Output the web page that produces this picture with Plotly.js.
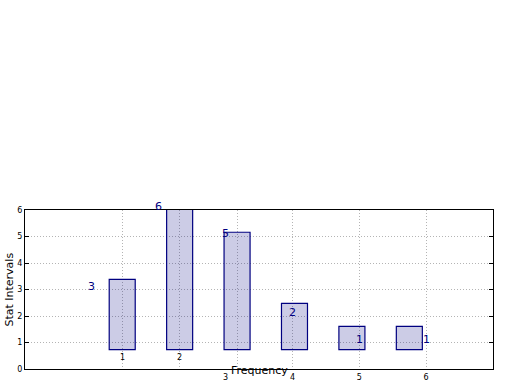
<!DOCTYPE html>
<html>
<head>
<meta charset="utf-8">
<script src="https://cdn.plot.ly/plotly-3.0.1.min.js"></script>
<style>html,body{margin:0;padding:0;background:#fff;}#chart{width:520px;height:390px;}</style>
</head>
<body>
<div id="chart"></div>
<script>
// ---- data ----
const categories = [1, 2, 3, 4, 5, 6];
const barTops = [3.38, 6.07, 5.16, 2.48, 1.61, 1.61];
const barBase = 0.73;
const counts = [3, 6, 5, 2, 1, 1];
const innerTickLabels = ['1', '2'];
const outerTickVals = [3, 4, 5, 6];
const outerTickText = ['3', '4', '5', '6'];
const yTicks = [0, 1, 2, 3, 4, 5, 6];
const xTitle = 'Frequency';
const yTitle = 'Stat Intervals';

const FONT = 'DejaVu Sans, sans-serif';
const NAVY = '#000080';
const GRID = '#b4b4b4';
const DASH = '1px,2px';

const bars = {
  type: 'bar',
  x: categories,
  y: barTops.map(v => v - barBase),
  base: barBase,
  width: 0.453,
  xaxis: 'x2',
  yaxis: 'y',
  cliponaxis: false,
  marker: {color: 'rgba(0,0,128,0.2)', line: {color: NAVY, width: 1.2}},
  hoverinfo: 'skip',
  showlegend: false
};
const dummy3 = {type: 'scatter', x: [], y: [], xaxis: 'x3', yaxis: 'y', showlegend: false, hoverinfo: 'skip'};

const annotations = [];
counts.forEach((c, i) => {
  annotations.push({
    xref: 'x', yref: 'y', x: categories[i], y: c, text: String(c),
    showarrow: false, xanchor: 'center', yanchor: 'middle', yshift: 3.5,
    font: {family: FONT, size: 11, color: NAVY}
  });
});
innerTickLabels.forEach((t, i) => {
  annotations.push({
    xref: 'x2', yref: 'y', x: categories[i], y: 0.44, text: t,
    showarrow: false, xanchor: 'center', yanchor: 'middle',
    font: {family: FONT, size: 8, color: '#000'}
  });
});
annotations.push({
  xref: 'paper', yref: 'paper', x: 0.501, y: 0, yshift: -1, text: xTitle,
  showarrow: false, xanchor: 'center', yanchor: 'middle',
  font: {family: FONT, size: 11, color: '#000'}
});
annotations.push({
  xref: 'paper', yref: 'paper', x: -0.034, y: 0.5, text: yTitle, textangle: -90,
  showarrow: false, xanchor: 'center', yanchor: 'middle',
  font: {family: FONT, size: 11, color: '#000'}
});

const layout = {
  width: 520, height: 390,
  margin: {l: 25, r: 27, t: 210, b: 21, pad: 0},
  paper_bgcolor: '#fff', plot_bgcolor: '#fff',
  font: {family: FONT, size: 8, color: '#000'},
  showlegend: false,
  xaxis: {
    range: [0, 7], tickvals: outerTickVals, ticktext: outerTickText,
    showgrid: false, zeroline: false, showline: true, mirror: true,
    linecolor: '#000', linewidth: 1, ticks: '', tickfont: {family: FONT, size: 8, color: '#000'}
  },
  xaxis2: {
    overlaying: 'x', anchor: 'y', range: [-0.693, 7.457], tickvals: [1, 2, 3],
    showticklabels: false, showgrid: true, gridcolor: GRID, griddash: DASH, gridwidth: 1,
    zeroline: false, showline: false, ticks: ''
  },
  xaxis3: {
    overlaying: 'x', anchor: 'y', range: [0, 7], tickvals: [4, 5, 6],
    showticklabels: false, showgrid: true, gridcolor: GRID, griddash: DASH, gridwidth: 1,
    zeroline: false, showline: false, ticks: ''
  },
  yaxis: {
    range: [0, 6], tickvals: yTicks, showgrid: true, gridcolor: GRID, griddash: DASH, gridwidth: 1,
    zeroline: false, showline: true, mirror: 'ticks', linecolor: '#000', linewidth: 1,
    ticks: 'inside', ticklen: 4, tickcolor: '#000', tickfont: {family: FONT, size: 8, color: '#000'}
  },
  annotations: annotations
};

Plotly.newPlot('chart', [bars, dummy3], layout, {displayModeBar: false, staticPlot: true});
</script>
</body>
</html>
